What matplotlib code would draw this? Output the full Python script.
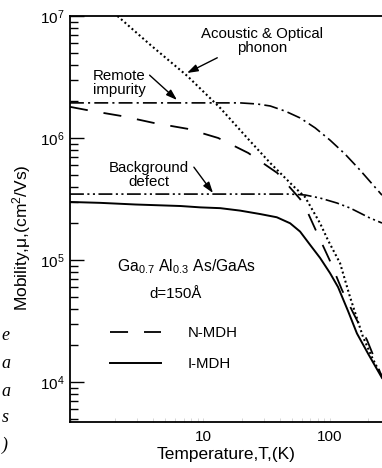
import matplotlib

matplotlib.use("Agg")
import matplotlib.pyplot as plt
from matplotlib.ticker import LogLocator, NullFormatter, LogFormatterMathtext

plt.rcParams.update({
    "font.family": "Liberation Sans",
    "mathtext.fontset": "custom",
    "mathtext.rm": "Liberation Sans",
    "mathtext.it": "Liberation Sans:italic",
    "lines.scale_dashes": False,
})

# temperature (K) / mobility (cm^2/Vs)
T_remote = [0.886, 5, 19.5, 26.6, 33.7, 44.3, 58, 76.3, 100, 131, 172, 257]
mu_remote = [1.94e6, 1.94e6, 1.94e6, 1.90e6, 1.83e6, 1.66e6, 1.46e6, 1.21e6,
             9.6e5, 7.4e5, 5.47e5, 3.4e5]

T_bg = [0.886, 10, 48.3, 63.5, 83.4, 113.5, 143.5, 172, 206, 257]
mu_bg = [3.47e5, 3.47e5, 3.47e5, 3.41e5, 3.22e5, 2.93e5, 2.67e5, 2.43e5,
         2.21e5, 2.01e5]

T_phonon = [2.1, 3.83, 7.48, 13.6, 22.2, 33.7, 51.2, 63.5, 83.4, 96.4, 120,
            143.5, 182, 214, 257]
mu_phonon = [1e7, 5.78e6, 3.22e6, 1.76e6, 1.0e6, 6.24e5, 4.04e5, 3.28e5,
             2.0e5, 1.45e5, 9.4e4, 5.0e4, 2.34e4, 1.6e4, 1.1e4]

T_n = [0.886, 1.34, 2.30, 4.04, 7.48, 13.1, 22.6, 38.3, 58, 65.9, 76.3, 100,
       124, 152, 196, 257]
mu_n = [1.80e6, 1.66e6, 1.51e6, 1.33e6, 1.19e6, 1.0e6, 7.54e5, 5.17e5,
        3.16e5, 2.52e5, 1.80e5, 9.8e4, 5.7e4, 3.7e4, 2.2e4, 1.1e4]

T_i = [0.886, 1.54, 2.92, 6.6, 9.47, 13.6, 19.5, 28.1, 38.0, 48.4, 58, 69.6,
       83.4, 100, 115.6, 138.6, 163, 200, 257]
mu_i = [2.99e5, 2.94e5, 2.85e5, 2.77e5, 2.70e5, 2.66e5, 2.54e5, 2.38e5,
        2.24e5, 2.0e5, 1.71e5, 1.33e5, 1.04e5, 7.8e4, 6.0e4, 3.82e4, 2.5e4,
        1.70e4, 1.08e4]

W, H = 382, 468
L, R, TOP, BOT = 70, 382, 16, 422


def fx(px):
    return (px - L) / (R - L)


def fy(py):
    return (BOT - py) / (BOT - TOP)


fig = plt.figure(figsize=(W / 100, H / 100), dpi=100)
ax = fig.add_axes([L / W, 1 - BOT / H, (R - L) / W, (BOT - TOP) / H])
ax.set_xscale("log")
ax.set_yscale("log")
ax.set_xlim(0.886, 257)
ax.set_ylim(4.7e3, 1e7)

lw = 1.2
ax.plot(T_remote, mu_remote, color="k", lw=lw, ls=(0, (10, 3, 1.5, 3)))
ax.plot(T_bg, mu_bg, color="k", lw=lw, ls=(0, (10, 2.5, 1.5, 2.5, 1.5, 2.5)))
ax.plot(T_phonon, mu_phonon, color="k", lw=1.5, ls=(0, (1.4, 2.0)))
ax.plot(T_n, mu_n, color="k", lw=1.3, ls=(0, (13, 11.5)), label="N-MDH")
ax.plot(T_i, mu_i, color="k", lw=1.4, label="I-MDH")

ax.spines["right"].set_visible(False)
for s in ("left", "top", "bottom"):
    ax.spines[s].set_linewidth(1.3)

ax.yaxis.set_major_locator(LogLocator(base=10, numticks=10))
ax.yaxis.set_minor_locator(LogLocator(base=10, subs=range(2, 10), numticks=20))
ax.yaxis.set_major_formatter(LogFormatterMathtext())
ax.yaxis.set_minor_formatter(NullFormatter())
ax.tick_params(axis="y", which="major", direction="in", length=10, width=1.0,
               labelsize=11, pad=4)
ax.tick_params(axis="y", which="minor", direction="in", length=6, width=1.0)
ax.xaxis.set_minor_formatter(NullFormatter())
ax.set_xticks([10, 100])
ax.set_xticklabels(["10", "100"])
ax.tick_params(axis="x", which="major", direction="in", length=3, width=0.6,
               color="#d0d0d0", labelsize=11, pad=6)
ax.tick_params(axis="x", which="minor", direction="in", length=3, width=0.6,
               color="#d0d0d0")
ax.tick_params(top=False, right=False, which="both")

ax.set_xlabel("Temperature,T,(K)", fontsize=12.5, labelpad=2)
fig.text(22 / W, 1 - 238 / H, "Mobility,\u03bc,(cm$^2$/Vs)", rotation=90,
         ha="center", va="center", fontsize=12.5)

fs = 10.8


def arrow(rel):
    return dict(arrowstyle="-|>,head_length=0.6,head_width=0.2", color="k",
                lw=1.0, shrinkA=0, shrinkB=0, relpos=rel)


ax.annotate("Acoustic & Optical\nphonon", xy=(fx(187), fy(73)),
            xytext=(fx(262), fy(41)), xycoords="axes fraction",
            textcoords="axes fraction", ha="center", va="center",
            fontsize=fs, linespacing=1.0, arrowprops=arrow((0.27, 0.2)))
ax.annotate("Remote\nimpurity", xy=(fx(177), fy(100)),
            xytext=(fx(119), fy(83)), xycoords="axes fraction",
            textcoords="axes fraction", ha="center", va="center",
            fontsize=fs, linespacing=1.0, arrowprops=arrow((1.08, 0.78)))
ax.annotate("Background\ndefect", xy=(fx(213), fy(193)),
            xytext=(fx(149), fy(175)), xycoords="axes fraction",
            textcoords="axes fraction", ha="center", va="center",
            fontsize=fs, linespacing=1.0, arrowprops=arrow((1.06, 0.78)))
ax.text(fx(187), fy(267), "Ga$_{0.7}$ Al$_{0.3}$ As/GaAs", transform=ax.transAxes,
        ha="center", va="center", fontsize=11.3)
ax.text(fx(176), fy(294), "d=150\u00c5", transform=ax.transAxes,
        ha="center", va="center", fontsize=fs)

ax.legend(loc="upper left", bbox_to_anchor=(fx(110), fy(326)), frameon=False,
          fontsize=fs, handlelength=3.4, handletextpad=1.8, labelspacing=1.15,
          borderpad=0, borderaxespad=0)

# italic letters from the neighbouring column of the scan
for py, ch in zip([335, 363, 392, 418, 445], ["e", "a", "a", "s", ")"]):
    fig.text(1.5 / W, 1 - py / H, ch, ha="left", va="center", fontsize=13,
             family="Liberation Serif", style="italic")

fig.savefig("out.png", dpi=100)
